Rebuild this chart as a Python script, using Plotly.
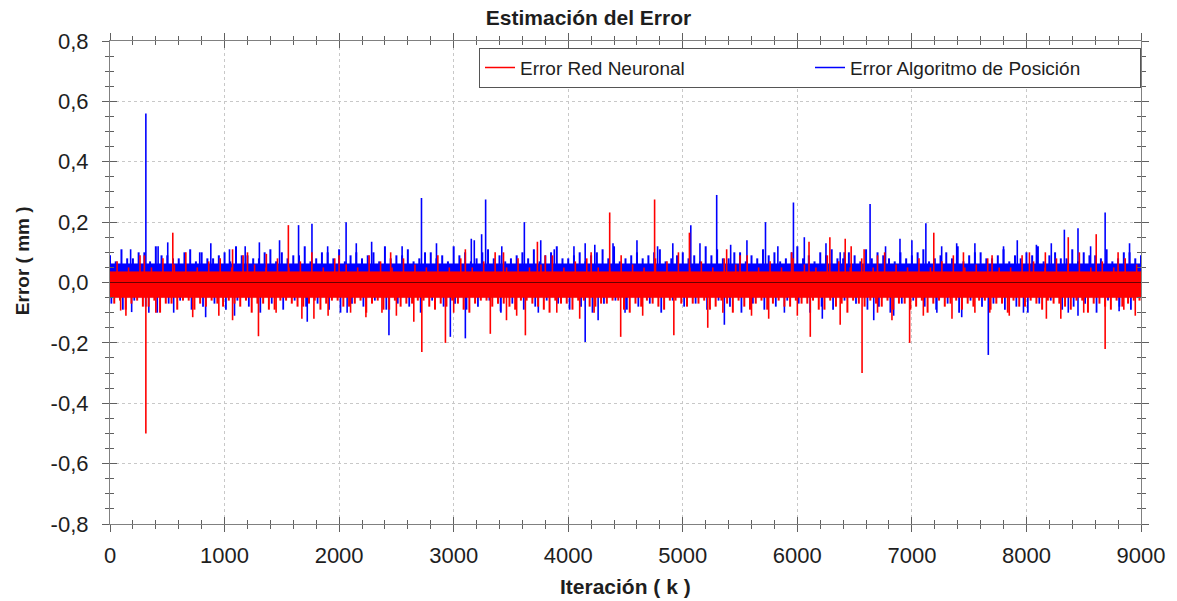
import plotly.graph_objects as go

# ---------------- data ----------------
# dense noise: solid core [lower, upper] of each series (mm)
blue_core = [-0.048, 0.062]
red_core = [-0.05, 0.036]

# dense streaks every 100 iterations (local extremes)
comb_k = list(range(0, 9001, 100))
blue_up = [0.09,0.11,0.08,0.10,0.12,0.09,0.08,0.11,0.10,0.08,
           0.10,0.12,0.09,0.08,0.11,0.10,0.09,0.12,0.08,0.10,
           0.11,0.09,0.08,0.10,0.12,0.09,0.11,0.08,0.10,0.09,
           0.12,0.10,0.08,0.11,0.09,0.08,0.10,0.11,0.09,0.12,
           0.08,0.10,0.09,0.11,0.12,0.08,0.10,0.09,0.11,0.08,
           0.10,0.09,0.12,0.11,0.08,0.10,0.09,0.11,0.10,0.08,
           0.12,0.09,0.10,0.11,0.08,0.09,0.11,0.10,0.08,0.10,
           0.09,0.11,0.08,0.10,0.12,0.09,0.10,0.08,0.11,0.09,
           0.10,0.12,0.09,0.08,0.11,0.10,0.09,0.11,0.08,0.10,
           0.09]
blue_up2 = [0.07,0.08,0.10,0.07,0.09,0.08,0.10,0.07,0.08,0.09,
            0.07,0.09,0.08,0.10,0.07,0.08,0.09,0.07,0.10,0.08,
            0.07,0.10,0.09,0.07,0.08,0.09,0.07,0.10,0.08,0.07,
            0.09,0.07,0.10,0.08,0.07,0.09,0.08,0.07,0.10,0.08,
            0.09,0.07,0.10,0.08,0.07,0.09,0.08,0.10,0.07,0.09,
            0.08,0.07,0.09,0.08,0.10,0.07,0.08,0.09,0.07,0.10,
            0.08,0.07,0.09,0.08,0.10,0.07,0.08,0.09,0.07,0.08,
            0.10,0.07,0.09,0.08,0.07,0.10,0.08,0.09,0.07,0.08,
            0.09,0.07,0.10,0.08,0.07,0.09,0.08,0.07,0.10,0.08,
            0.07]
blue_dn = [-0.07,-0.09,-0.06,-0.08,-0.10,-0.07,-0.06,-0.09,-0.08,-0.07,
           -0.09,-0.06,-0.08,-0.10,-0.07,-0.09,-0.06,-0.08,-0.07,-0.09,
           -0.10,-0.07,-0.08,-0.06,-0.09,-0.07,-0.08,-0.10,-0.06,-0.08,
           -0.07,-0.09,-0.08,-0.06,-0.10,-0.07,-0.09,-0.08,-0.06,-0.07,
           -0.09,-0.08,-0.10,-0.07,-0.06,-0.09,-0.08,-0.07,-0.10,-0.06,
           -0.08,-0.07,-0.09,-0.06,-0.08,-0.10,-0.07,-0.09,-0.08,-0.06,
           -0.07,-0.10,-0.08,-0.09,-0.06,-0.07,-0.09,-0.08,-0.10,-0.07,
           -0.06,-0.08,-0.09,-0.07,-0.10,-0.06,-0.08,-0.07,-0.09,-0.08,
           -0.10,-0.07,-0.06,-0.09,-0.08,-0.07,-0.10,-0.06,-0.08,-0.09,
           -0.07]
red_up = [0.07,0.05,0.09,0.05,0.08,0.06,0.10,0.05,0.07,0.08,
          0.05,0.09,0.06,0.05,0.08,0.05,0.07,0.10,0.05,0.08,
          0.06,0.05,0.09,0.07,0.05,0.08,0.06,0.05,0.09,0.05,
          0.08,0.05,0.07,0.10,0.05,0.08,0.05,0.06,0.09,0.05,
          0.07,0.08,0.05,0.05,0.09,0.06,0.05,0.08,0.07,0.10,
          0.05,0.07,0.05,0.08,0.06,0.09,0.05,0.07,0.05,0.08,
          0.06,0.05,0.09,0.07,0.05,0.08,0.05,0.10,0.06,0.05,
          0.08,0.05,0.07,0.09,0.05,0.06,0.08,0.05,0.05,0.09,
          0.07,0.05,0.08,0.06,0.10,0.05,0.07,0.05,0.08,0.06,
          0.05]
red_dn = [-0.07,-0.09,-0.06,-0.08,-0.10,-0.07,-0.06,-0.09,-0.08,-0.07,
          -0.06,-0.08,-0.10,-0.07,-0.09,-0.06,-0.08,-0.07,-0.09,-0.06,
          -0.08,-0.07,-0.10,-0.06,-0.09,-0.08,-0.07,-0.06,-0.09,-0.08,
          -0.07,-0.10,-0.06,-0.08,-0.07,-0.09,-0.06,-0.08,-0.10,-0.07,
          -0.09,-0.06,-0.08,-0.07,-0.06,-0.10,-0.08,-0.07,-0.09,-0.06,
          -0.08,-0.07,-0.09,-0.06,-0.10,-0.08,-0.07,-0.09,-0.06,-0.08,
          -0.07,-0.06,-0.09,-0.08,-0.10,-0.07,-0.06,-0.08,-0.09,-0.07,
          -0.08,-0.10,-0.06,-0.07,-0.09,-0.08,-0.06,-0.07,-0.10,-0.08,
          -0.06,-0.09,-0.07,-0.08,-0.06,-0.10,-0.07,-0.09,-0.08,-0.06,
          -0.07]
red_dn2 = [-0.06,-0.07,-0.08,-0.06,-0.07,-0.09,-0.06,-0.07,-0.06,-0.08,
           -0.07,-0.06,-0.07,-0.09,-0.06,-0.07,-0.08,-0.06,-0.07,-0.06,
           -0.08,-0.06,-0.07,-0.09,-0.06,-0.07,-0.06,-0.08,-0.07,-0.06,
           -0.09,-0.07,-0.06,-0.07,-0.08,-0.06,-0.07,-0.09,-0.06,-0.07,
           -0.06,-0.08,-0.07,-0.06,-0.09,-0.07,-0.06,-0.08,-0.06,-0.07,
           -0.07,-0.06,-0.08,-0.07,-0.06,-0.09,-0.06,-0.07,-0.08,-0.06,
           -0.07,-0.09,-0.06,-0.07,-0.06,-0.08,-0.07,-0.06,-0.07,-0.09,
           -0.06,-0.07,-0.08,-0.06,-0.07,-0.06,-0.09,-0.07,-0.06,-0.08,
           -0.07,-0.06,-0.07,-0.09,-0.06,-0.07,-0.08,-0.06,-0.07,-0.06,
           -0.08]

# individual spikes: iteration k and error value (mm)
blue_spike_k = [180, 313, 504, 783, 1043, 1304, 1646, 1763, 2061, 2284,
                2719, 3154, 3180, 3244, 3279, 3617, 3878, 4148, 4232, 4391,
                4913, 5070, 5296, 5418, 5722, 5966, 6061, 6374, 6409, 6635,
                6896, 7122, 7391, 8087, 8217, 8331, 8450, 8687,
                420, 880, 1180, 1480, 1900, 2150, 2550, 2850, 3420, 3760,
                4050, 4600, 4780, 5150, 5560, 5830, 6250, 6770, 7000, 7260,
                7550, 7800, 7920, 8560, 8900,
                189, 339, 556, 835, 1087, 1722, 2070, 2435, 2971, 3102,
                3409, 3739, 4148, 4261, 4496, 5363, 5887, 6218, 6667, 6841,
                7218, 7435, 7667, 7974, 8365, 8450, 8809]
blue_spike_v = [0.11, 0.56, 0.133, 0.10, 0.11, 0.133, 0.19, 0.195, 0.20, 0.135,
                0.28, 0.145, 0.14, 0.16, 0.275, 0.20, 0.11, 0.13, 0.125, 0.13,
                0.13, 0.19, 0.29, 0.125, 0.20, 0.265, 0.15, 0.10, 0.10, 0.26,
                0.145, 0.196, 0.13, 0.125, 0.13, 0.175, 0.18, 0.232,
                0.12, 0.13, 0.12, 0.14, 0.12, 0.13, 0.12, 0.13, 0.12, 0.14,
                0.12, 0.14, 0.12, 0.13, 0.14, 0.12, 0.13, 0.12, 0.14, 0.12,
                0.13, 0.12, 0.14, 0.12, 0.13,
                -0.098, -0.10, -0.10, -0.115, -0.11, -0.13, -0.10, -0.175, -0.18, -0.185,
                -0.095, -0.10, -0.197, -0.125, -0.10, -0.14, -0.10, -0.12, -0.125, -0.11,
                -0.10, -0.115, -0.24, -0.10, -0.10, -0.11, -0.095]

red_spike_k = [548, 1070, 1365, 1557, 3102, 3435, 3731, 4362, 4754, 5058,
               5383, 6102, 6284, 6418, 6470, 6583, 7191, 8026, 8165, 8365, 8609,
               300, 1200, 2000, 2450, 3800, 4200, 5500, 5950, 6700, 7450, 7700, 8800,
               93, 139, 313, 722, 1070, 1296, 1675, 1904, 2234, 2374,
               2652, 2722, 2928, 3320, 3461, 3626, 4226, 4458, 4922, 5218,
               5600, 6113, 6374, 6565, 6826, 6980, 7680, 8174, 8687, 8850,
               400, 950, 1450, 1780, 2100, 2500, 3000, 3550, 3900, 4100, 4650,
               5350, 5750, 6000, 6700, 7100, 7350, 7550, 7850, 8300, 8500, 8950]
red_spike_v = [0.165, 0.11, 0.095, 0.19, 0.11, 0.10, 0.135, 0.232, 0.275, 0.165,
               0.11, 0.135, 0.15, 0.145, 0.12, 0.11, 0.165, 0.10, 0.10, 0.15, 0.16,
               0.09, 0.10, 0.09, 0.10, 0.09, 0.10, 0.09, 0.10, 0.09, 0.10, 0.09, 0.10,
               -0.093, -0.11, -0.50, -0.115, -0.125, -0.178, -0.12, -0.11, -0.115, -0.10,
               -0.13, -0.23, -0.20, -0.17, -0.125, -0.175, -0.10, -0.18, -0.175, -0.15,
               -0.11, -0.18, -0.14, -0.30, -0.125, -0.20, -0.10, -0.12, -0.22, -0.09,
               -0.10, -0.11, -0.10, -0.12, -0.10, -0.11, -0.10, -0.11, -0.10, -0.12, -0.11,
               -0.10, -0.12, -0.11, -0.10, -0.11, -0.12, -0.10, -0.11, -0.12, -0.10, -0.11]

x_range = [0, 9000]
y_range = [-0.8, 0.8]
x_tick_vals = [0, 1000, 2000, 3000, 4000, 5000, 6000, 7000, 8000, 9000]
y_tick_vals = [-0.8, -0.6, -0.4, -0.2, 0.0, 0.2, 0.4, 0.6, 0.8]
y_tick_text = ["-0,8", "-0,6", "-0,4", "-0,2", "0,0", "0,2", "0,4", "0,6", "0,8"]

series_names = ["Error Red Neuronal", "Error Algoritmo de Posición"]
RED = "#ff0000"
BLUE = "#0000ff"
FONT = "Liberation Sans, Arial, sans-serif"
TXT = "#1e1e1e"


def stems(ks, vs, offset=0):
    xs, ys = [], []
    for k, v in zip(ks, vs):
        xs += [k + offset, k + offset, None]
        ys += [0, v, None]
    return xs, ys


def core(lo_hi):
    lo, hi = lo_hi
    return ([x_range[0], x_range[1], x_range[1], x_range[0], x_range[0]],
            [lo, lo, hi, hi, lo])


fig = go.Figure()


def add_lines(xs, ys, color, width, fill=False):
    fig.add_trace(go.Scatter(x=xs, y=ys, mode="lines", line=dict(color=color, width=width),
                             fill="toself" if fill else None, fillcolor=color if fill else None,
                             showlegend=False, hoverinfo="skip"))


# blue series (drawn underneath)
add_lines(*core(blue_core), BLUE, 0.5, fill=True)
add_lines(*stems(comb_k, blue_up, 0), BLUE, 2)
add_lines(*stems(comb_k, blue_up2, 50), BLUE, 2)
add_lines(*stems(comb_k, blue_dn, 12), BLUE, 1.8)
add_lines(*stems(blue_spike_k, blue_spike_v), BLUE, 1.6)
# red series (drawn on top)
add_lines(*core(red_core), RED, 0.5, fill=True)
add_lines(*stems(comb_k, red_up, 62), RED, 1.6)
add_lines(*stems(comb_k, red_dn, 37), RED, 2)
add_lines(*stems(comb_k, red_dn2, 87), RED, 2)
add_lines(*stems(red_spike_k, red_spike_v), RED, 1.6)

# legend entries
fig.add_trace(go.Scatter(x=[None], y=[None], mode="lines", name=series_names[0],
                         line=dict(color=RED, width=1.5)))
fig.add_trace(go.Scatter(x=[None], y=[None], mode="lines", name=series_names[1],
                         line=dict(color=BLUE, width=1.5)))
# invisible trace for overlay axes (inside ticks)
fig.add_trace(go.Scatter(x=[None], y=[None], xaxis="x2", yaxis="y2", showlegend=False))

fig.add_hline(y=0, line=dict(color="#6a0000", width=1))

axis_common = dict(showline=True, linecolor="#808080", linewidth=1.2, mirror="allticks",
                   ticks="outside", ticklen=7, tickcolor="#606060", tickwidth=1,
                   gridcolor="#c8c8c8", griddash="dot", gridwidth=1, zeroline=False,
                   tickfont=dict(family=FONT, size=22, color=TXT))

fig.update_layout(
    width=1177, height=601,
    paper_bgcolor="white", plot_bgcolor="white",
    margin=dict(l=110, r=32, t=41, b=77),
    font=dict(family=FONT, color=TXT),
    title=dict(text="<b>Estimación del Error</b>", x=0.5, xanchor="center",
               y=0.97, yanchor="middle", font=dict(family=FONT, size=21, color=TXT)),
    xaxis=dict(range=x_range, tickvals=x_tick_vals, ticklabelstandoff=4,
               minor=dict(dtick=200, ticks="outside", ticklen=4, tickcolor="#606060", showgrid=False),
               **axis_common),
    yaxis=dict(range=y_range, tickvals=y_tick_vals, ticktext=y_tick_text, ticklabelstandoff=9,
               minor=dict(dtick=0.05, ticks="outside", ticklen=4, tickcolor="#606060", showgrid=False),
               **axis_common),
    xaxis2=dict(overlaying="x", anchor="y2", range=x_range, tickvals=x_tick_vals,
                showticklabels=False, showgrid=False, zeroline=False, showline=False,
                ticks="inside", ticklen=7, tickcolor="#606060", mirror="allticks",
                minor=dict(dtick=200, ticks="inside", ticklen=4, tickcolor="#606060")),
    yaxis2=dict(overlaying="y", anchor="x2", range=y_range, tickvals=y_tick_vals,
                showticklabels=False, showgrid=False, zeroline=False, showline=False,
                ticks="inside", ticklen=7, tickcolor="#606060", mirror="allticks",
                minor=dict(dtick=0.05, ticks="inside", ticklen=4, tickcolor="#606060")),
    legend=dict(orientation="h", x=1.0, xanchor="right", y=0.986, yanchor="top",
                bgcolor="white", bordercolor="#555555", borderwidth=1,
                entrywidth=285, font=dict(family=FONT, size=19, color=TXT)),
    showlegend=True,
    annotations=[
        dict(text="<b>Iteración ( k )</b>", xref="paper", yref="paper", x=0.5, y=-0.13,
             xanchor="center", yanchor="middle", showarrow=False,
             font=dict(family=FONT, size=21, color=TXT)),
        dict(text="<b>Error ( mm )</b>", xref="paper", yref="paper", x=-0.085, y=0.545,
             xanchor="center", yanchor="middle", textangle=-90, showarrow=False,
             font=dict(family=FONT, size=19, color=TXT)),
    ],
)

fig.write_html("out.html", config={"displayModeBar": False},
               post_script="document.body.style.margin='0';")
